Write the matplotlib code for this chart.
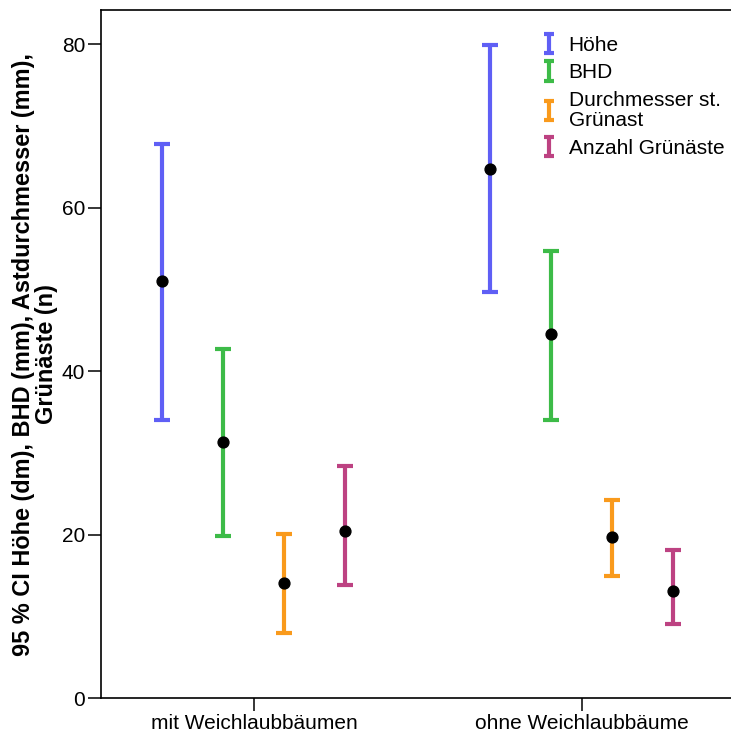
import matplotlib.pyplot as plt
import numpy as np
from matplotlib.legend_handler import HandlerErrorbar

plt.rcParams['font.family'] = ['Liberation Sans', 'DejaVu Sans']

groups = ['mit Weichlaubbäumen', 'ohne Weichlaubbäume']
variables = ['Höhe', 'BHD', 'Durchmesser st.\nGrünast', 'Anzahl Grünäste']
colors = ['#5f5ff5', '#3dbb48', '#f99a1c', '#bd4282']

# means and 95 % CI bounds, one row per variable, one column per group
means = [[51.0, 64.8], [31.3, 44.5], [14.1, 19.7], [20.5, 13.1]]
lower = [[34.0, 49.7], [19.8, 34.0], [7.9, 14.9], [13.8, 9.1]]
upper = [[67.8, 79.9], [42.7, 54.7], [20.1, 24.2], [28.4, 18.1]]

fig = plt.figure(figsize=(7.31, 7.37), dpi=100)
ax = fig.add_axes([0.1382, 0.0529, 0.867, 0.9335])

x = np.arange(len(groups))
step = 0.186
handles = []
for i, var in enumerate(variables):
    xi = x + (i - 1.5) * step
    m = np.array(means[i])
    err = [m - np.array(lower[i]), np.array(upper[i]) - m]
    ax.errorbar(xi, m, yerr=err, fmt='none', ecolor=colors[i],
                elinewidth=3.0, capsize=5.6, capthick=3.0)
    ax.plot(xi, m, 'o', color='black', markersize=7.8, zorder=5)
    # invisible proxy with narrower caps for the legend key
    h = ax.errorbar([np.nan], [np.nan], yerr=[1], fmt='none', ecolor=colors[i],
                    elinewidth=3.0, capsize=3.8, capthick=3.0, label=var)
    handles.append(h)

ax.set_xlim(-0.466, 1.466)
ax.set_ylim(0, 84.2)
ax.set_xticks(x)
ax.set_xticklabels(groups)
ax.set_yticks([0, 20, 40, 60, 80])
ax.tick_params(axis='both', labelsize=15, length=9.5, width=1.1, pad=2)
for side in ['left', 'bottom', 'top']:
    ax.spines[side].set_linewidth(1.2)
ax.spines['right'].set_visible(False)

ax.set_ylabel('95 % CI Höhe (dm), BHD (mm), Astdurchmesser (mm),\nGrünäste (n)',
              fontsize=16.9, fontweight='bold', linespacing=1.0)
ax.yaxis.set_label_coords(-0.068, 0.5)

leg = ax.legend(handles=handles, loc='upper left', bbox_to_anchor=(0.682, 0.975),
                frameon=False, fontsize=15, handlelength=0.7, handletextpad=0.6,
                labelspacing=0.42, borderaxespad=0.0,
                handler_map={type(handles[0]): HandlerErrorbar(yerr_size=0.46)})
for t in leg.get_texts():
    t.set_linespacing(1.05)

fig.savefig('out.png', dpi=100)
